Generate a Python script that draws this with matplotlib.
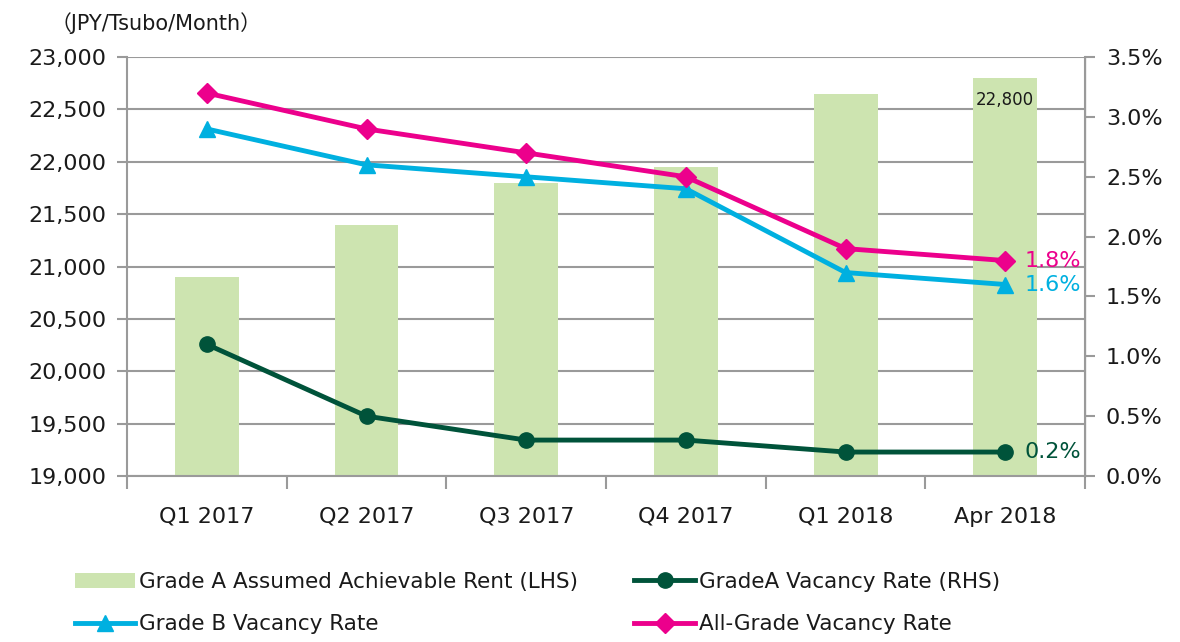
import matplotlib
matplotlib.use("Agg")
import matplotlib.pyplot as plt
import numpy as np
from matplotlib.ticker import FuncFormatter, FixedLocator

plt.rcParams['font.family'] = ['DejaVu Sans', 'Noto Sans CJK JP']

# Data
quarters = ['Q1 2017', 'Q2 2017', 'Q3 2017', 'Q4 2017', 'Q1 2018', 'Apr 2018']
rent_grade_a = [20900, 21400, 21800, 21950, 22650, 22800]
vac_grade_a = [1.1, 0.5, 0.3, 0.3, 0.2, 0.2]
vac_grade_b = [2.9, 2.6, 2.5, 2.4, 1.7, 1.6]
vac_all = [3.2, 2.9, 2.7, 2.5, 1.9, 1.8]

c_bar = '#cde4b0'
c_a = '#00533a'
c_b = '#00b0e0'
c_all = '#ec008c'
c_grid = '#9a9a9a'
c_text = '#1a1a1a'

fig = plt.figure(figsize=(11.8, 6.42), dpi=100)
ax = fig.add_axes([0.1076, 0.2586, 0.812, 0.6524])
ax2 = ax.twinx()

x = np.arange(len(quarters))
ax.bar(x, rent_grade_a, width=0.4, color=c_bar, zorder=2,
       label='Grade A Assumed Achievable Rent (LHS)')
ax.set_ylim(19000, 23000)
ax.set_xlim(-0.5, len(quarters) - 0.5)
ax.set_yticks(np.arange(19000, 23001, 500))
ax.yaxis.set_major_formatter(FuncFormatter(lambda v, p: f'{int(v):,}'))
ax.yaxis.grid(True, color=c_grid, linewidth=1.5, zorder=0)
ax.set_axisbelow(True)

ax.set_xticks(x)
ax.set_xticklabels(quarters, fontsize=16, color=c_text)
ax.xaxis.set_minor_locator(FixedLocator(np.arange(-0.5, len(quarters), 1.0)))
ax.tick_params(axis='x', which='major', length=0, pad=22)
ax.tick_params(axis='x', which='minor', length=9, width=1.5, color=c_grid)
ax.tick_params(axis='y', labelsize=16, labelcolor=c_text, length=7, width=1.5,
               color=c_grid, pad=8)

ax.spines['top'].set_visible(False)
ax2.spines['top'].set_visible(False)
for sp in [ax.spines['left'], ax.spines['bottom'], ax2.spines['right']]:
    sp.set_color(c_grid)
    sp.set_linewidth(1.5)
ax2.spines['left'].set_visible(False)
ax2.spines['bottom'].set_visible(False)

ax.text(x[-1], rent_grade_a[-1] - 120, f'{rent_grade_a[-1]:,}', ha='center',
        va='top', fontsize=12, color=c_text, zorder=5)

ax.text(-0.08, 1.055, '（JPY/Tsubo/Month）', transform=ax.transAxes,
        fontsize=15, ha='left', va='bottom', color=c_text)

# Lines on right axis
ax2.plot(x, vac_grade_a, color=c_a, lw=3.5, marker='o', ms=11,
         label='GradeA Vacancy Rate (RHS)', zorder=4)
ax2.plot(x, vac_grade_b, color=c_b, lw=3.5, marker='^', ms=11,
         label='Grade B Vacancy Rate', zorder=4)
ax2.plot(x, vac_all, color=c_all, lw=3.5, marker='D', ms=10,
         label='All-Grade Vacancy Rate', zorder=5)
ax2.set_ylim(0, 3.5)
ax2.set_yticks(np.arange(0, 3.51, 0.5))
ax2.yaxis.set_major_formatter(FuncFormatter(lambda v, p: f'{v:.1f}%'))
ax2.tick_params(axis='y', labelsize=16, labelcolor=c_text, length=7, width=1.5,
                color=c_grid, pad=8)

for vals, col in [(vac_all, c_all), (vac_grade_b, c_b), (vac_grade_a, c_a)]:
    ax2.annotate(f'{vals[-1]:.1f}%', (x[-1], vals[-1]), xytext=(14, 0),
                 textcoords='offset points', va='center', ha='left',
                 fontsize=16, color=col)

h1, l1 = ax.get_legend_handles_labels()
h2, l2 = ax2.get_legend_handles_labels()
handles = [h1[0], h2[1], h2[0], h2[2]]
labels = [l1[0], l2[1], l2[0], l2[2]]
fig.legend(handles, labels, loc='lower left', bbox_to_anchor=(0.047, -0.018),
           ncol=2, frameon=False, fontsize=15.5, columnspacing=2.6,
           handlelength=2.8, labelspacing=1.05, handletextpad=0.2,
           labelcolor=c_text)

plt.savefig('out.png', dpi=100)
